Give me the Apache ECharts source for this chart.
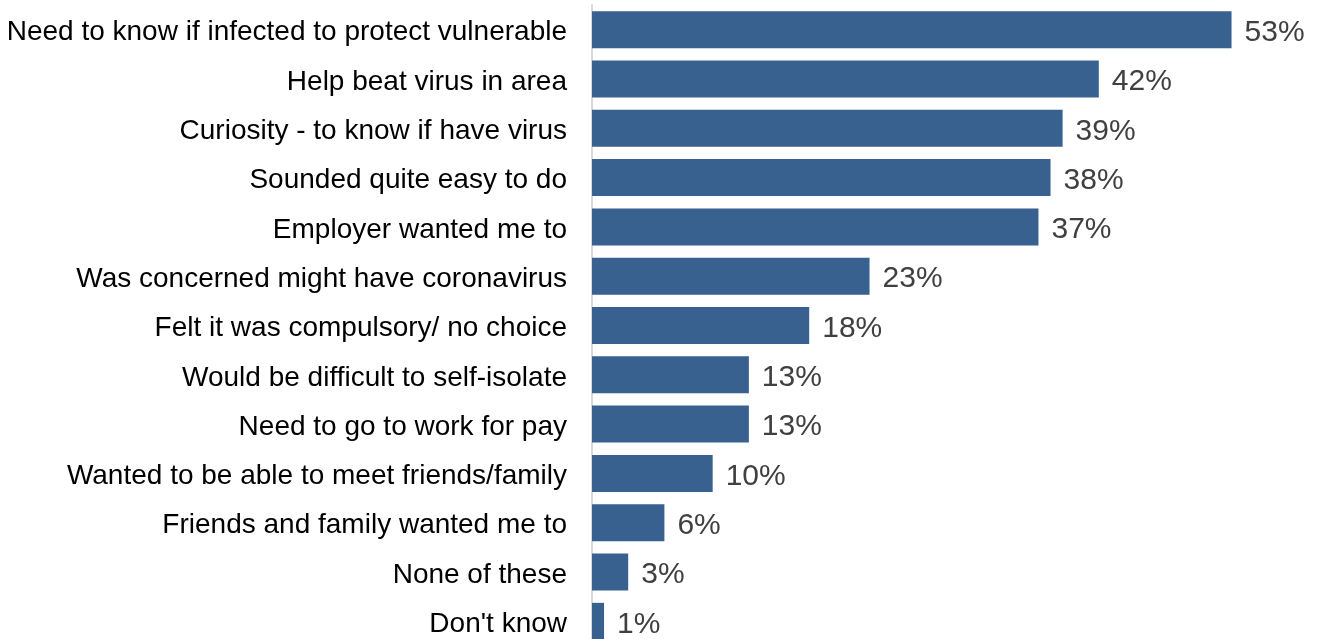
<!DOCTYPE html>
<html>
<head>
<meta charset="utf-8">
<script src="https://cdn.jsdelivr.net/npm/echarts@6/dist/echarts.min.js"></script>
<style>
  html, body { margin: 0; padding: 0; background: #fff; overflow: hidden; }
  /* the last row is cut by the window edge, like the source picture */
  #chart { width: 1319px; height: 646px; }
</style>
</head>
<body>
<div id="chart"></div>
<script>
  // reasons, top to bottom
  const reasons = [
    'Need to know if infected to protect vulnerable',
    'Help beat virus in area',
    'Curiosity - to know if have virus',
    'Sounded quite easy to do',
    'Employer wanted me to',
    'Was concerned might have coronavirus',
    'Felt it was compulsory/ no choice',
    'Would be difficult to self-isolate',
    'Need to go to work for pay',
    'Wanted to be able to meet friends/family',
    'Friends and family wanted me to',
    'None of these',
    "Don't know"
  ]
  const shares = [53, 42, 39, 38, 37, 23, 18, 13, 13, 10, 6, 3, 1]

  const font = 'Liberation Sans, Arial, sans-serif'
  const chart = echarts.init(document.getElementById('chart'))
  chart.setOption({
    animation: false,
    grid: { left: 592, top: 5, width: 724, bottom: 0 },
    xAxis: {
      type: 'value', min: 0, max: 60,
      show: false
    },
    yAxis: {
      type: 'category',
      data: reasons,
      inverse: true,
      axisLine: { show: true, lineStyle: { color: '#d9d9d9', width: 2 } },
      axisTick: { show: false },
      axisLabel: {
        margin: 25,
        formatter: v => '{t|' + v + '}',
        rich: {
          t: { color: '#000', fontSize: 28, fontFamily: font, padding: [6, 0, 0, 0] }
        }
      }
    },
    series: [{
      type: 'bar',
      data: shares,
      barWidth: 37,
      itemStyle: { color: '#38618f' },
      label: {
        show: true, position: 'right', distance: 13,
        offset: [0, 3],
        formatter: p => p.value + '%',
        color: '#404040', fontSize: 30,
        fontFamily: font
      }
    }]
  })
</script>
</body>
</html>
